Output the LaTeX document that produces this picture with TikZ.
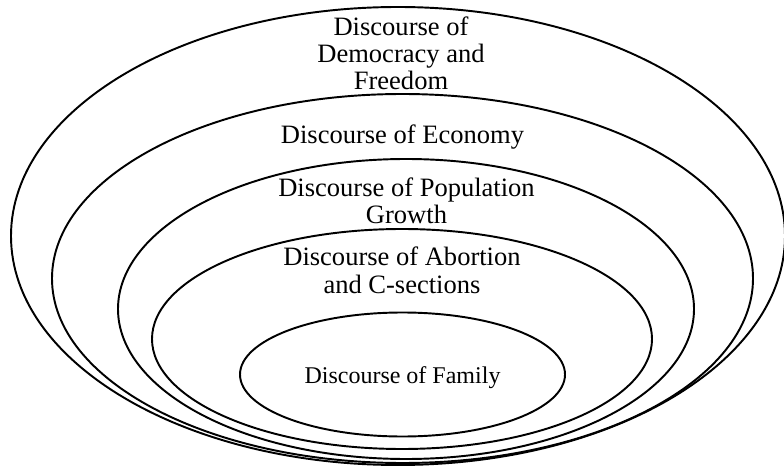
\documentclass[tikz,border=0pt]{standalone}
\usepackage{fontspec}
\setmainfont{Liberation Serif}
\usetikzlibrary{shapes.geometric}
\tikzset{
  ring/.style={draw, ellipse, line width=1.45pt, inner sep=0pt},
  label/.style={anchor=base, align=center, inner sep=0pt,
    font=\fontsize{19.9}{20.4}\selectfont},
  smalllabel/.style={anchor=base, align=center, inner sep=0pt,
    font=\fontsize{18}{20}\selectfont}
}
\begin{document}
\begin{tikzpicture}[x=0.75pt, y=-0.75pt]
  \useasboundingbox (0,0) rectangle (784,466);
  % nested discourse rings, outermost first
  \node[ring, minimum width=774*0.75pt, minimum height=458*0.75pt] (democracy) at (398,236) {};
  \node[ring, minimum width=701*0.75pt, minimum height=369*0.75pt] (economy) at (402.5,278.5) {};
  \node[ring, minimum width=576*0.75pt, minimum height=300*0.75pt] (population) at (406,309) {};
  \node[ring, minimum width=500*0.75pt, minimum height=220*0.75pt] (abortion) at (402,339) {};
  \node[ring, minimum width=325*0.75pt, minimum height=124*0.75pt] (family) at (402.5,374.5) {};
  % ring titles (base anchor sits on the last line)
  \node[label] (tdemocracy) at (401,90) {Discourse of\\Democracy and\\Freedom};
  \node[label] (teconomy) at (402.5,144) {Discourse of Economy};
  \node[label] (tpopulation) at (406.5,224) {Discourse of Population\\Growth};
  \node[label] (tabortion) at (402,293) {Discourse of Abortion\\and C-sections};
  \node[smalllabel] (tfamily) at (402.5,383) {Discourse of Family};
\end{tikzpicture}
\end{document}
